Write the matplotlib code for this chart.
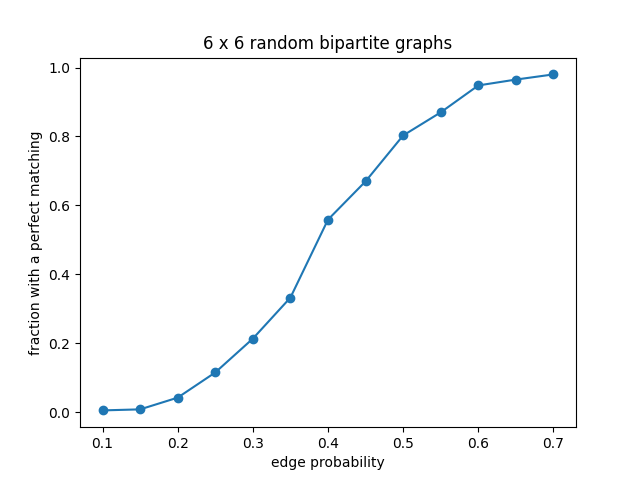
import matplotlib
matplotlib.use("Agg")
import matplotlib.pyplot as plt

edge_prob = [0.1, 0.15, 0.2, 0.25, 0.3, 0.35, 0.4, 0.45, 0.5, 0.55, 0.6, 0.65, 0.7]
fraction = [0.006, 0.009, 0.043, 0.116, 0.214, 0.333, 0.559, 0.670, 0.803, 0.870, 0.948, 0.965, 0.980]

fig, ax = plt.subplots(figsize=(6.4, 4.8), dpi=100)
ax.plot(edge_prob, fraction, marker='o')
ax.set_title("6 x 6 random bipartite graphs")
ax.set_xlabel("edge probability")
ax.set_ylabel("fraction with a perfect matching")
fig.savefig("out.png")
